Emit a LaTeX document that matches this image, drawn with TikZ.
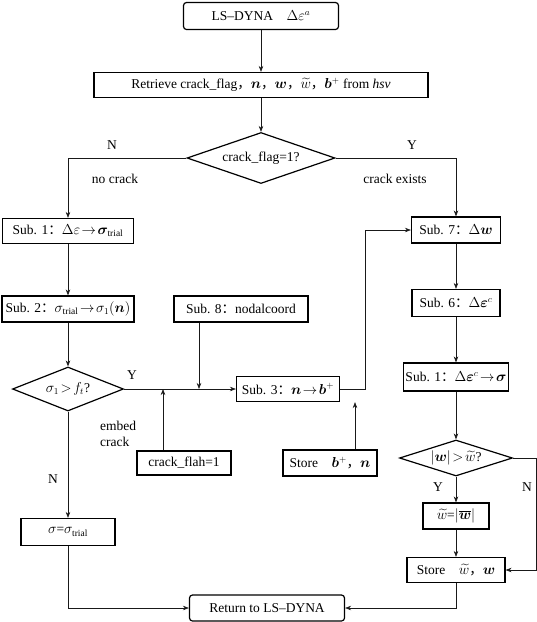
\documentclass[tikz,border=0pt]{standalone}
\usepackage{amsmath,bm}
\usepackage{fontspec}
\setmainfont{Liberation Serif}
\newfontfamily\cjk{Noto Sans CJK SC}
\usetikzlibrary{shapes.geometric,arrows.meta}
\definecolor{inkgray}{gray}{0.1}
\def\cc{{\cjk ：}}
\def\cm{{\cjk ，}}
\def\bw{1.2pt}
\tikzstyle{proc}=[draw,rectangle,line width=\bw,inner sep=2pt]
\tikzstyle{term}=[proc,rounded corners=3pt]
\tikzstyle{test}=[draw,diamond,line width=\bw,inner sep=0pt]
\tikzstyle{flow}=[-{Stealth[length=6pt,width=4.5pt]},line width=0.6pt,color=inkgray]
\tikzstyle{lab}=[inner sep=0pt]

\begin{document}
\begin{tikzpicture}[x=1pt,y=-1pt,font=\fontsize{13.5}{16}\selectfont]
  \useasboundingbox (0,0) rectangle (537,622);
  % Place entry, retrieve and exit
  \node[term,minimum width=155pt,minimum height=27pt] (dyna) at (261,16) {LS–DYNA\quad $\Delta\varepsilon^a$};
  \node[proc,minimum width=334pt,minimum height=25pt] (hsv) at (261,85)
    {Retrieve crack\_flag\cm$\boldsymbol{n}$\cm$\boldsymbol{w}$\cm$\widetilde{w}$\cm$\boldsymbol{b}^+$ from \textit{hsv}};
  \node[test,shape aspect=3,minimum width=148pt,minimum height=51pt] (flag) at (261,158) {crack\_flag=1?};
  \node[term,minimum width=155pt,minimum height=26pt] (ret) at (267,608) {Return to LS–DYNA};

  % Place no crack branch
  \node[proc,minimum width=131pt,minimum height=25pt] (s1a) at (68,231)
    {Sub. 1\cc$\Delta\varepsilon\!\rightarrow\!\boldsymbol{\sigma}_{\text{trial}}$};
  \node[proc,minimum width=132pt,minimum height=26pt] (s2) at (68,309)
    {Sub. 2\cc$\sigma_{\text{trial}}\!\rightarrow\!\sigma_1(\boldsymbol{n})$};
  \node[test,shape aspect=2.5,minimum width=111pt,minimum height=44pt] (sig) at (68,389) {$\sigma_1\!>\!f_t$?};
  \node[proc,minimum width=94pt,minimum height=27pt] (trial) at (68,532)
    {$\sigma$=$\sigma_{\text{trial}}$};

  % Place crack embedding
  \node[proc,minimum width=134pt,minimum height=26pt] (s8) at (241,309) {Sub. 8\cc nodalcoord};
  \node[proc,minimum width=103pt,minimum height=25pt] (s3) at (288,389)
    {Sub. 3\cc$\boldsymbol{n}\!\rightarrow\!\boldsymbol{b}^+$};
  \node[proc,minimum width=94pt,minimum height=24pt] (flah) at (184,463) {crack\_flah=1};
  \node[proc,minimum width=94pt,minimum height=26pt] (storeb) at (330,463)
    {Store\quad$\boldsymbol{b}^+$\cm$\boldsymbol{n}$};

  % Place crack exists branch
  \node[proc,minimum width=89pt,minimum height=26pt] (s7) at (456,230) {Sub. 7\cc$\Delta\boldsymbol{w}$};
  \node[proc,minimum width=88pt,minimum height=27pt] (s6) at (456,303)
    {Sub. 6\cc$\Delta\boldsymbol{\varepsilon}^c$};
  \node[proc,minimum width=104pt,minimum height=28pt] (s1b) at (456,377)
    {Sub. 1\cc$\Delta\boldsymbol{\varepsilon}^c\!\rightarrow\!\boldsymbol{\sigma}$};
  \node[test,shape aspect=3.1,minimum width=113pt,minimum height=36pt] (wtest) at (456,458)
    {$\left|\boldsymbol{w}\right|\!>\!\widetilde{w}$?};
  \node[proc,minimum width=66pt,minimum height=26pt] (wbox) at (456,516)
    {$\widetilde{w}$=$\left|\overline{\boldsymbol{w}}\right|$};
  \node[proc,minimum width=98pt,minimum height=25pt] (storew) at (456,570)
    {Store\quad$\widetilde{w}$\cm$\boldsymbol{w}$};

  % Labels
  \node[lab] (ln1) at (112,145) {N};
  \node[lab] (ly1) at (412,145) {Y};
  \node[lab] (lno) at (115,179) {no crack};
  \node[lab] (lex) at (395,179) {crack exists};
  \node[lab] (ly2) at (132,375) {Y};
  \node[lab,align=left,anchor=west] (lem) at (100,434) {embed\\crack};
  \node[lab] (ln2) at (53,479) {N};
  \node[lab] (ly3) at (438,487) {Y};
  \node[lab] (ln3) at (527,487) {N};

  % Junctions
  \coordinate (j8) at (199,389);
  \coordinate (jf) at (163,389);
  \coordinate (jb) at (355,389);
  \coordinate (k3) at (365,389);
  \coordinate (kn) at (536,458);

  \draw[flow] (dyna) -- (hsv);
  \draw[flow] (hsv) -- (flag);
  \draw[flow] (flag.west) -| (s1a.north);
  \draw[flow] (flag.east) -| (s7.north);
  \draw[flow] (s1a) -- (s2);
  \draw[flow] (s2) -- (sig);
  \draw[flow] (sig.east) -- (s3.west);
  \draw[flow] (s8.south -| j8) -- (j8);
  \draw[flow] (flah.north -| jf) -- (jf);
  \draw[flow] (storeb.north -| jb) -- (s3.south -| jb);
  \draw[flow] (s3.east) -- (k3) |- (s7.west);
  \draw[flow] (sig.south) -- (trial.north);
  \draw[flow] (trial.south) |- (ret.west);
  \draw[flow] (s7) -- (s6);
  \draw[flow] (s6) -- (s1b);
  \draw[flow] (s1b) -- (wtest);
  \draw[flow] (wtest) -- (wbox);
  \draw[flow] (wbox) -- (storew);
  \draw[flow] (wtest.east) -- (kn) |- (storew.east);
  \draw[flow] (storew.south) |- (ret.east);
\end{tikzpicture}
\end{document}
